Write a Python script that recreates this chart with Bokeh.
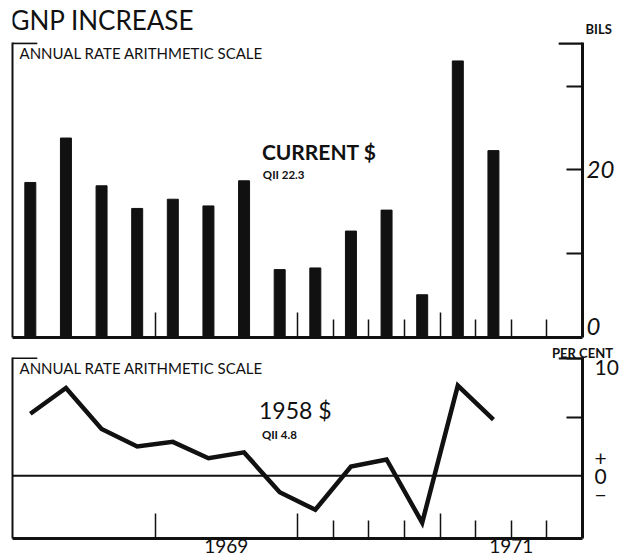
from bokeh.plotting import figure
from bokeh.layouts import column
from bokeh.models import Range1d, LinearAxis, FixedTicker, Span, Label, ColumnDataSource
from bokeh.embed import file_html
from bokeh.resources import INLINE

# ---------------- data ----------------
quarters = ["1968 Q1", "1968 Q2", "1968 Q3", "1968 Q4",
            "1969 Q1", "1969 Q2", "1969 Q3", "1969 Q4",
            "1970 Q1", "1970 Q2", "1970 Q3", "1970 Q4",
            "1971 Q1", "1971 Q2"]
gnp_current_bils = [18.5, 23.8, 18.1, 15.4, 16.5, 15.7, 18.7, 8.1, 8.3, 12.7, 15.2, 5.1, 33.0, 22.3]
gnp_1958_pct = [5.3, 7.5, 4.0, 2.5, 2.9, 1.5, 2.0, -1.4, -2.9, 0.8, 1.4, -4.0, 7.7, 4.8]
year_ticks = [1969, 1970, 1971]
quarter_ticks = [1970.25, 1970.5, 1970.75, 1971.25, 1971.5, 1971.75]
year_labels = {1969.5: "1969", 1971.5: "1971"}
bils_marks = [10, 20, 30]
bils_labels = {1.3: "0", 20: "20"}
pct_marks = [5, 10]
pct_labels = {0: "+\n0\n\u2212", 9.3: "10"}

def qpos(q):
    y, qq = q.split(" Q")
    return int(y) + (int(qq) - 0.5) / 4.0

xq = [qpos(q) for q in quarters]

INK = "#111111"
FONT = "Lato"
W = 621
X0, X1 = 1968.0, 1972.0
BILS_TOP = 35.2
PCT_BOT, PCT_TOP = -5.35, 10.1

def txt(p, x, y, text, size, style="normal", xo=0, yo=0, align="left"):
    p.add_layout(Label(x=x, y=y, text=text, x_offset=xo, y_offset=yo,
                       text_font=FONT, text_font_size=size, text_font_style=style,
                       text_color=INK, text_align=align, text_baseline="alphabetic"))

def clean(p):
    p.outline_line_color = None
    p.grid.visible = False
    p.background_fill_color = "white"
    p.border_fill_color = "white"

def panel_fig(height, y_range, border_top, border_bottom):
    p = figure(width=W, height=height, x_range=Range1d(X0, X1), y_range=y_range,
               output_backend="svg", toolbar_location=None,
               x_axis_location=None, y_axis_location=None,
               min_border_left=12, min_border_right=36,
               min_border_top=border_top, min_border_bottom=border_bottom)
    clean(p)
    la = LinearAxis(ticker=FixedTicker(ticks=[]), axis_line_width=2, axis_line_color=INK,
                    major_tick_in=0, major_tick_out=0, minor_tick_in=0, minor_tick_out=0,
                    major_label_standoff=0)
    p.add_layout(la, "left")
    xa = LinearAxis(ticker=FixedTicker(ticks=year_ticks, minor_ticks=quarter_ticks),
                    major_label_overrides={t: "" for t in year_ticks},
                    axis_line_width=3, axis_line_color=INK,
                    major_tick_in=25, major_tick_out=0, minor_tick_in=18, minor_tick_out=0,
                    major_tick_line_width=1.5, minor_tick_line_width=1.5,
                    major_tick_line_color=INK, minor_tick_line_color=INK,
                    major_label_text_font_size="1px", major_label_standoff=0)
    p.add_layout(xa, "below")
    return p

# ---------------- header (title + unit) ----------------
head = figure(width=W, height=38, x_range=Range1d(X0, X1), y_range=Range1d(0, 38),
              output_backend="svg", toolbar_location=None,
              x_axis_location=None, y_axis_location=None,
              min_border_left=12, min_border_right=36, min_border_top=0, min_border_bottom=0)
clean(head)
unit_axis = LinearAxis(ticker=FixedTicker(ticks=[10]), major_label_overrides={10: "BILS"},
                       axis_line_color=None, major_tick_line_color=None, minor_tick_line_color=None,
                       major_tick_in=0, major_tick_out=0,
                       major_label_text_font=FONT, major_label_text_font_size="13px",
                       major_label_text_font_style="bold", major_label_text_color=INK,
                       major_label_standoff=3)
head.add_layout(unit_axis, "right")
txt(head, X0, 18.5, "GNP INCREASE", "26px", xo=-2)

# ---------------- top panel ----------------
top = panel_fig(303, Range1d(0, BILS_TOP), 4, 4)
src_top = ColumnDataSource(dict(x=xq, v=gnp_current_bils))
top.vbar(x="x", top="v", bottom=0, width=0.077, source=src_top, color=INK)

ra = LinearAxis(ticker=FixedTicker(ticks=list(bils_labels.keys()), minor_ticks=bils_marks),
                major_label_overrides=bils_labels,
                axis_line_width=3, axis_line_color=INK,
                major_tick_in=0, major_tick_out=0, minor_tick_in=16, minor_tick_out=0,
                minor_tick_line_width=2, minor_tick_line_color=INK,
                major_label_text_font=FONT, major_label_text_font_size="24px",
                major_label_text_font_style="italic", major_label_text_color=INK,
                major_label_standoff=4)
top.add_layout(ra, "right")

cap_y = BILS_TOP - 0.1
top.segment(x0=[X0], y0=[cap_y], x1=[X0 + 0.174], y1=[cap_y], line_width=2, color=INK)
top.segment(x0=[X1 - 0.167], y0=[cap_y], x1=[X1], y1=[cap_y], line_width=3, color=INK)

txt(top, X0, BILS_TOP, "ANNUAL RATE  ARITHMETIC SCALE", "15px", xo=7, yo=-10)
txt(top, 1969.75, 22.2, "CURRENT $", "21px", style="bold")
txt(top, 1969.757, 19.5, "QII 22.3", "11.5px", style="bold")

# ---------------- bottom panel ----------------
bot = panel_fig(214, Range1d(PCT_BOT, PCT_TOP), 13, 0)
lab_axis = LinearAxis(ticker=FixedTicker(ticks=list(year_labels.keys())),
                      major_label_overrides=year_labels,
                      axis_line_color=None, major_tick_line_color=None, minor_tick_line_color=None,
                      major_tick_in=0, major_tick_out=0,
                      major_label_text_font=FONT, major_label_text_font_size="19px",
                      major_label_text_color=INK, major_label_standoff=0)
bot.add_layout(lab_axis, "below")

pc_axis = LinearAxis(ticker=FixedTicker(ticks=[X1]), major_label_overrides={X1: "PER CENT"},
                     axis_line_color=None, major_tick_line_color=None, minor_tick_line_color=None,
                     major_tick_in=0, major_tick_out=0,
                     major_label_text_font=FONT, major_label_text_font_size="13px",
                     major_label_text_font_style="bold",
                     major_label_text_color=INK, major_label_standoff=-3)
bot.add_layout(pc_axis, "above")

bot.add_layout(Span(location=0, dimension="width", line_width=2, line_color=INK))
src_bot = ColumnDataSource(dict(x=xq, v=gnp_1958_pct))
bot.line(x="x", y="v", source=src_bot, line_width=4.5, color=INK, line_join="miter")

rb = LinearAxis(ticker=FixedTicker(ticks=list(pct_labels.keys()), minor_ticks=pct_marks),
                major_label_overrides=pct_labels,
                axis_line_width=3, axis_line_color=INK,
                major_tick_in=0, major_tick_out=0, minor_tick_in=16, minor_tick_out=0,
                minor_tick_line_width=2, minor_tick_line_color=INK,
                major_label_text_font=FONT, major_label_text_font_size="21px",
                major_label_text_color=INK, major_label_text_line_height=0.75,
                major_label_standoff=12)
bot.add_layout(rb, "right")

cap_y2 = PCT_TOP - 0.05
bot.segment(x0=[X0], y0=[cap_y2], x1=[X0 + 0.174], y1=[cap_y2], line_width=2, color=INK)
bot.segment(x0=[X1 - 0.167], y0=[cap_y2], x1=[X1], y1=[cap_y2], line_width=3, color=INK)

txt(bot, X0, PCT_TOP, "ANNUAL RATE  ARITHMETIC SCALE", "15px", xo=7, yo=-10)
txt(bot, 1969.73, 5.6, "1958 $", "23px")
txt(bot, 1969.75, 3.5, "QII 4.8", "11.5px", style="bold")

layout = column(head, top, bot, spacing=0)
open("out.html", "w").write(file_html(layout, INLINE))
